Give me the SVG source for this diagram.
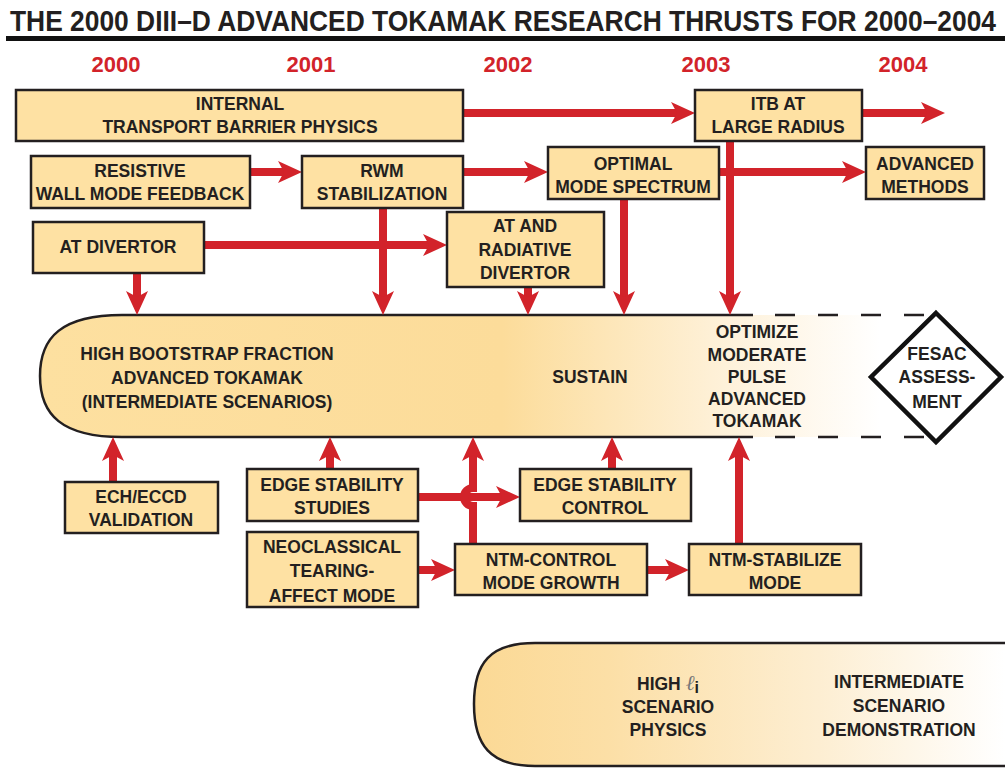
<svg xmlns="http://www.w3.org/2000/svg" width="1005" height="768" viewBox="0 0 1005 768">
<style>
.t{font-family:"Liberation Sans",Arial,sans-serif;font-weight:bold;font-size:17.5px;fill:#231f20;text-anchor:middle}
.box{fill:#fee1a3;stroke:#231f20;stroke-width:2.5}
.yr{font-family:"Liberation Sans",Arial,sans-serif;font-weight:bold;font-size:22px;fill:#d2232a;text-anchor:middle}
.c{fill:none;stroke:#d2232a;stroke-width:8;marker-end:url(#ah)}
</style>
<defs>
<marker id="ah" markerUnits="userSpaceOnUse" markerWidth="26" markerHeight="24" viewBox="0 -12 26 24" refX="6" refY="0" orient="auto"><path d="M0,-11 L24,0 L0,11 L6,0 Z" fill="#d2232a"/></marker>
<linearGradient id="g1" gradientUnits="userSpaceOnUse" x1="40" y1="0" x2="880" y2="0">
<stop offset="0" stop-color="#fde0a0"/><stop offset="0.55" stop-color="#fcdc9a"/><stop offset="0.8" stop-color="#fef0d6"/><stop offset="1" stop-color="#ffffff"/>
</linearGradient>
<linearGradient id="g2" gradientUnits="userSpaceOnUse" x1="474" y1="0" x2="1005" y2="0">
<stop offset="0" stop-color="#fbd995"/><stop offset="0.25" stop-color="#fcdfa6"/><stop offset="0.65" stop-color="#fdeed2"/><stop offset="1" stop-color="#ffffff"/>
</linearGradient>
</defs>
<rect width="1005" height="768" fill="#fff"/>
<text x="10" y="31" class="t" style="font-size:30px;text-anchor:start" textLength="986" lengthAdjust="spacingAndGlyphs">THE 2000 DIII–D ADVANCED TOKAMAK RESEARCH THRUSTS FOR 2000–2004</text>
<rect x="6" y="36" width="999" height="5" fill="#111"/>
<g id="years">
<text class="yr" x="116" y="72">2000</text><text class="yr" x="311" y="72">2001</text><text class="yr" x="508" y="72">2002</text><text class="yr" x="706" y="72">2003</text><text class="yr" x="903" y="72">2004</text>
</g>
<g id="pill-main">
<path d="M122,315 H930 V437 H122 C62,437 40,415 40,376 C40,337 62,315 122,315 Z" fill="url(#g1)"/>
<path d="M753,315 H122 C62,315 40,337 40,376 C40,415 62,437 122,437 H753" fill="none" stroke="#231f20" stroke-width="2.5"/>
<path d="M775,315 H930 M775,437 H930" fill="none" stroke="#231f20" stroke-width="2.5" stroke-dasharray="20 23"/>
<text class="t"><tspan x="207" y="360">HIGH BOOTSTRAP FRACTION</tspan><tspan x="207" y="384">ADVANCED TOKAMAK</tspan><tspan x="207" y="408">(INTERMEDIATE SCENARIOS)</tspan></text>
<text class="t" x="590" y="383">SUSTAIN</text>
<text class="t"><tspan x="757" y="338">OPTIMIZE</tspan><tspan x="757" y="361">MODERATE</tspan><tspan x="757" y="383">PULSE</tspan><tspan x="757" y="405">ADVANCED</tspan><tspan x="757" y="427">TOKAMAK</tspan></text>
</g>
<g id="fesac">
<polygon points="936,313 1001,377 936,442 871,377" fill="#fff" stroke="#111" stroke-width="4.5"/>
<text class="t"><tspan x="937" y="360">FESAC</tspan><tspan x="937" y="383">ASSESS-</tspan><tspan x="937" y="408">MENT</tspan></text>
</g>
<g id="pill-bottom">
<path d="M535,643 H1005 V766 H535 C490,766 474,745 474,704 C474,663 490,643 535,643 Z" fill="url(#g2)"/>
<path d="M1005,643 H535 C490,643 474,663 474,704 C474,745 490,766 535,766 H1005" fill="none" stroke="#231f20" stroke-width="2.5"/>
<text class="t" style="text-anchor:start" x="637" y="690">HIGH <tspan style="font-family:'Liberation Serif',serif;font-style:italic;font-weight:normal;font-size:21px;fill:#777">ℓ</tspan><tspan dy="3" style="font-size:16px">i</tspan></text>
<text class="t"><tspan x="668" y="713">SCENARIO</tspan><tspan x="668" y="736">PHYSICS</tspan></text>
<text class="t"><tspan x="899" y="688">INTERMEDIATE</tspan><tspan x="899" y="712">SCENARIO</tspan><tspan x="899" y="736">DEMONSTRATION</tspan></text>
</g>
<g id="connectors">
<path class="c" d="M463,113 H677"/>
<path class="c" d="M862,113 H927"/>
<path class="c" d="M250,172 H284"/>
<path class="c" d="M463,172 H530"/>
<path class="c" d="M719,172 H848"/>
<path class="c" d="M730,141 V297"/>
<path class="c" d="M204,245 H429"/>
<path class="c" d="M137,273 V297"/>
<path class="c" d="M383,208 V297"/>
<path class="c" d="M528,287 V297"/>
<path class="c" d="M624,199 V297"/>
<path class="c" d="M113,482 V455"/>
<path class="c" d="M330,469 V455"/>
<path class="c" d="M612,469 V455"/>
<path class="c" d="M418,497 H502"/>
<path class="c" d="M473,544 V506 A9,9 0 0 1 473,488 V455"/>
<path class="c" d="M418,570 H437"/>
<path class="c" d="M647,570 H671"/>
<path class="c" d="M739,544 V455"/>
</g>
<g id="n-itbphys"><rect class="box" x="16" y="90" width="447" height="51"/><text class="t"><tspan x="240" y="110">INTERNAL</tspan><tspan x="240" y="133">TRANSPORT BARRIER PHYSICS</tspan></text></g>
<g id="n-itblarge"><rect class="box" x="695" y="90" width="167" height="51"/><text class="t"><tspan x="778" y="110">ITB AT</tspan><tspan x="778" y="133">LARGE RADIUS</tspan></text></g>
<g id="n-resistive"><rect class="box" x="31" y="156" width="219" height="52"/><text class="t"><tspan x="140" y="177">RESISTIVE</tspan><tspan x="140" y="200">WALL MODE FEEDBACK</tspan></text></g>
<g id="n-rwm"><rect class="box" x="302" y="156" width="161" height="52"/><text class="t"><tspan x="382" y="177">RWM</tspan><tspan x="382" y="200">STABILIZATION</tspan></text></g>
<g id="n-optimal"><rect class="box" x="548" y="147" width="171" height="52"/><text class="t"><tspan x="633" y="170">OPTIMAL</tspan><tspan x="633" y="193">MODE SPECTRUM</tspan></text></g>
<g id="n-advanced"><rect class="box" x="866" y="147" width="118" height="52"/><text class="t"><tspan x="925" y="170">ADVANCED</tspan><tspan x="925" y="193">METHODS</tspan></text></g>
<g id="n-atdiv"><rect class="box" x="33" y="222" width="171" height="51"/><text class="t" x="118" y="253">AT DIVERTOR</text></g>
<g id="n-atrad"><rect class="box" x="447" y="212" width="157" height="75"/><text class="t"><tspan x="525" y="232">AT AND</tspan><tspan x="525" y="256">RADIATIVE</tspan><tspan x="525" y="279">DIVERTOR</tspan></text></g>
<g id="n-ech"><rect class="box" x="65" y="482" width="153" height="51"/><text class="t"><tspan x="141" y="503">ECH/ECCD</tspan><tspan x="141" y="526">VALIDATION</tspan></text></g>
<g id="n-edgestud"><rect class="box" x="247" y="469" width="171" height="52"/><text class="t"><tspan x="332" y="491">EDGE STABILITY</tspan><tspan x="332" y="514">STUDIES</tspan></text></g>
<g id="n-neo"><rect class="box" x="247" y="532" width="171" height="75"/><text class="t"><tspan x="332" y="553">NEOCLASSICAL</tspan><tspan x="332" y="577">TEARING-</tspan><tspan x="332" y="602">AFFECT MODE</tspan></text></g>
<g id="n-edgectl"><rect class="box" x="520" y="469" width="171" height="52"/><text class="t"><tspan x="605" y="491">EDGE STABILITY</tspan><tspan x="605" y="514">CONTROL</tspan></text></g>
<g id="n-ntmctl"><rect class="box" x="455" y="544" width="192" height="51"/><text class="t"><tspan x="551" y="566">NTM-CONTROL</tspan><tspan x="551" y="589">MODE GROWTH</tspan></text></g>
<g id="n-ntmstab"><rect class="box" x="689" y="544" width="172" height="51"/><text class="t"><tspan x="775" y="566">NTM-STABILIZE</tspan><tspan x="775" y="589">MODE</tspan></text></g>
</svg>
